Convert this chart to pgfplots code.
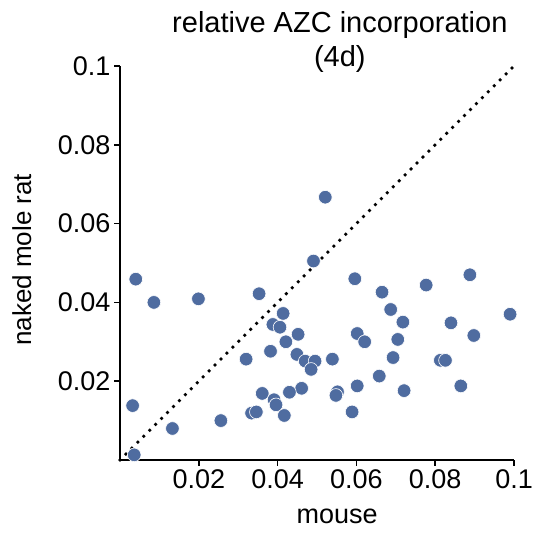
\documentclass[border=0pt]{standalone}
\usepackage{pgfplots}
\pgfplotsset{compat=1.18}
\usepackage{fontspec}
\setmainfont{Liberation Sans}
\definecolor{ptblue}{RGB}{79,108,160}
\begin{document}
\begin{tikzpicture}
\begin{axis}[
  scale only axis, width=394pt, height=394pt,
  xmin=0, xmax=0.1, ymin=0, ymax=0.1,
  axis lines=left, axis line style={-, line width=1.6pt, black},
  xtick={0.02,0.04,0.06,0.08,0.1}, xticklabels={0.02,0.04,0.06,0.08,0.1},
  ytick={0.02,0.04,0.06,0.08,0.1}, yticklabels={0.02,0.04,0.06,0.08,0.1},
  tick align=outside, major tick length=6pt,
  tick style={line width=1.6pt, black},
  xtick pos=left, ytick pos=left,
  ticklabel style={font=\fontsize{27}{27}\selectfont},
  /pgf/number format/assume math mode=true,
  clip=false,
]
\addplot[black, line width=3.8pt, dash pattern=on 0pt off 8.4pt, line cap=round] coordinates {(0,0) (0.1,0.1)};
\addplot[only marks, mark=*, mark size=6.8pt, mark options={fill=ptblue, draw=white, line width=0.6pt}] coordinates {
(0.0040,0.0459) (0.0086,0.0400) (0.0199,0.0409) (0.0353,0.0422) (0.0414,0.0372)
(0.0388,0.0344) (0.0406,0.0337) (0.0452,0.0319) (0.0421,0.0300) (0.0382,0.0276)
(0.0320,0.0256) (0.0449,0.0268) (0.0470,0.0251) (0.0495,0.0251) (0.0485,0.0230)
(0.0461,0.0182) (0.0430,0.0172) (0.0361,0.0169) (0.0391,0.0153) (0.0396,0.0140)
(0.0334,0.0119) (0.0346,0.0122) (0.0417,0.0113) (0.0256,0.0100) (0.0133,0.0080)
(0.0032,0.0138) (0.0036,0.0013) (0.0491,0.0505) (0.0521,0.0667) (0.0596,0.0460)
(0.0888,0.0470) (0.0777,0.0444) (0.0665,0.0426) (0.0687,0.0382) (0.0990,0.0370)
(0.0718,0.0350) (0.0840,0.0348) (0.0898,0.0316) (0.0602,0.0321) (0.0621,0.0300)
(0.0705,0.0306) (0.0539,0.0256) (0.0693,0.0260) (0.0813,0.0253) (0.0826,0.0253)
(0.0658,0.0213) (0.0602,0.0188) (0.0552,0.0173) (0.0548,0.0164) (0.0721,0.0176)
(0.0865,0.0188) (0.0589,0.0122)
};
\node[align=center, font=\fontsize{29}{34}\selectfont] at (rel axis cs:0.558,1.061) {relative AZC incorporation\\(4d)};
\node[font=\fontsize{27}{27}\selectfont] at (rel axis cs:0.551,-0.142) {mouse};
\node[rotate=90, font=\fontsize{26}{26}\selectfont] at (rel axis cs:-0.249,0.508) {naked mole rat};
\coordinate (bl) at (rel axis cs:-0.3046,-0.1929);
\coordinate (tr) at (rel axis cs:1.0761,1.1675);
\end{axis}
\pgfresetboundingbox
\path[use as bounding box] (bl) rectangle (tr);
\end{tikzpicture}
\end{document}
